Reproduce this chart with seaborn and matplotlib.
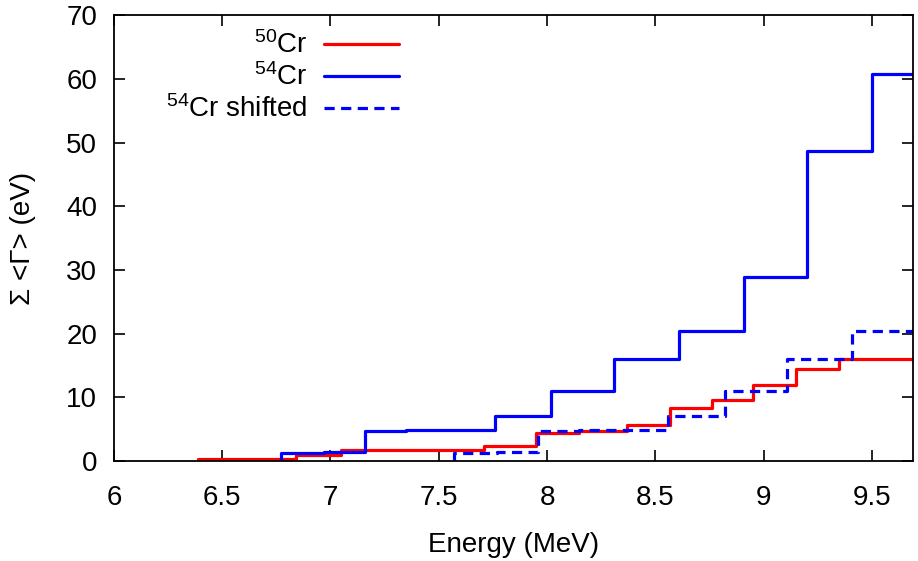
import numpy as np
import pandas as pd
import matplotlib
matplotlib.use("Agg")
import matplotlib.pyplot as plt
import seaborn as sns

# step edges (MeV) and cumulative sums (eV)
cr50_energy = [6.39, 6.84, 7.05, 7.71, 7.95, 8.15, 8.37, 8.57, 8.76, 8.95, 9.15, 9.35, 9.80]
cr50_sum = [0.3, 0.9, 1.7, 2.35, 4.35, 4.7, 5.6, 8.4, 9.55, 11.9, 14.4, 16.0, 16.0]

cr54_energy = [6.77, 6.97, 7.16, 7.35, 7.76, 8.02, 8.31, 8.61, 8.91, 9.20, 9.50, 9.80]
cr54_sum = [1.3, 1.5, 4.7, 4.85, 7.1, 11.0, 16.0, 20.5, 28.9, 48.7, 60.7, 60.7]

cr54s_energy = [7.57, 7.77, 7.96, 8.15, 8.56, 8.82, 9.11, 9.41, 9.80]
cr54s_sum = [1.3, 1.5, 4.7, 4.85, 7.1, 11.0, 16.0, 20.5, 20.5]

xticks = [6, 6.5, 7, 7.5, 8, 8.5, 9, 9.5]
xticklabels = ["6", "6.5", "7", "7.5", "8", "8.5", "9", "9.5"]
yticks = [0, 10, 20, 30, 40, 50, 60, 70]

sns.set_theme(style="ticks")
plt.rcParams['font.family'] = ['Liberation Sans', 'DejaVu Sans']
plt.rcParams['mathtext.fontset'] = 'custom'
plt.rcParams['mathtext.rm'] = 'Liberation Sans'
plt.rcParams['axes.edgecolor'] = 'black'
plt.rcParams['axes.linewidth'] = 1.3
plt.rcParams['text.color'] = 'black'
plt.rcParams['axes.labelcolor'] = 'black'


def to_frame(energy, values):
    # start each staircase from zero at the first edge
    e = [energy[0]] + list(energy)
    v = [0.0] + list(values)
    return pd.DataFrame({"E": e, "S": v})


fig = plt.figure(figsize=(9.18, 5.61), dpi=100)
ax = fig.add_axes([0.124, 0.178, 0.8706, 0.795])

sns.lineplot(data=to_frame(cr50_energy, cr50_sum), x="E", y="S", ax=ax,
             estimator=None, sort=False, drawstyle="steps-post",
             color="#ff0000", lw=2.3, label=r"$\mathregular{^{50}}$Cr")
sns.lineplot(data=to_frame(cr54_energy, cr54_sum), x="E", y="S", ax=ax,
             estimator=None, sort=False, drawstyle="steps-post",
             color="#0000ff", lw=2.3, label=r"$\mathregular{^{54}}$Cr")
sns.lineplot(data=to_frame(cr54s_energy, cr54s_sum), x="E", y="S", ax=ax,
             estimator=None, sort=False, drawstyle="steps-post",
             color="#0000ff", lw=2.3, dashes=(3.2, 2.0),
             label=r"$\mathregular{^{54}}$Cr shifted")

ax.set_xlim(6, 9.69)
ax.set_ylim(0, 70)
ax.set_xticks(xticks)
ax.set_xticklabels(xticklabels)
ax.set_yticks(yticks)
ax.tick_params(direction="in", top=True, right=True, length=8, width=1.2,
               labelsize=20, colors="black", labelcolor="black")
ax.tick_params(axis="x", pad=17)
ax.tick_params(axis="y", pad=12)
for s in ax.spines.values():
    s.set_visible(True)
ax.set_xlabel("Energy (MeV)", fontsize=20, labelpad=15)
ax.set_ylabel("Σ <Γ> (eV)", fontsize=20, labelpad=22)

ax.legend(loc="upper right", bbox_to_anchor=(0.357, 0.963), frameon=False,
          markerfirst=False, fontsize=20, handlelength=2.7, labelspacing=0.15,
          borderaxespad=0, borderpad=0, handletextpad=0.6)

fig.savefig("out.png", dpi=100)
